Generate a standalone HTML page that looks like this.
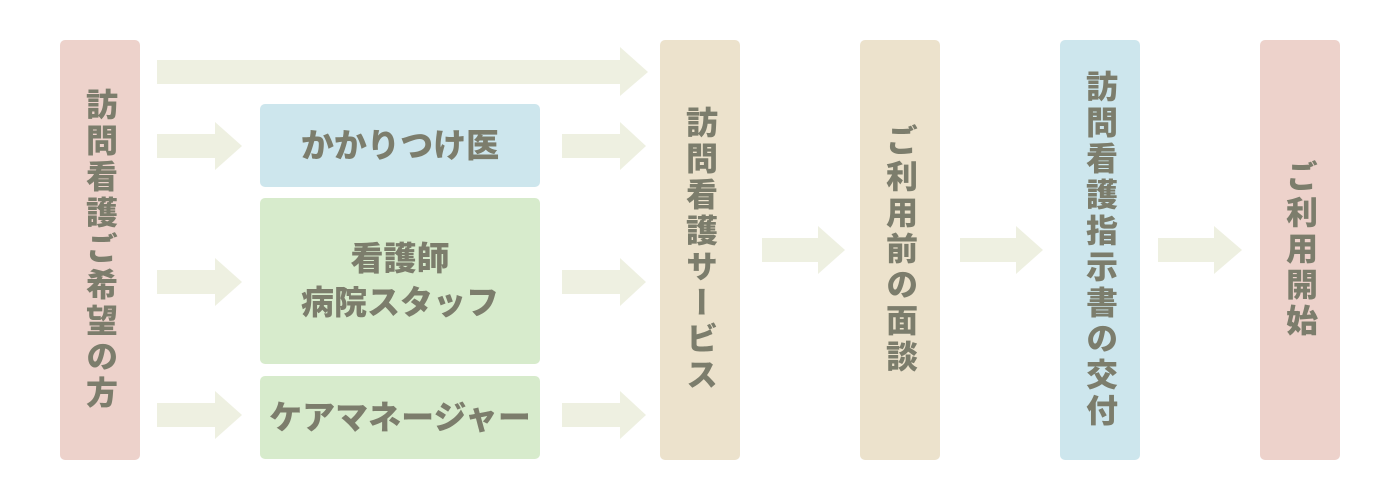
<!DOCTYPE html>
<html><head><meta charset="utf-8"><style>
body{margin:0;width:1400px;height:500px;background:#fff;position:relative;overflow:hidden;font-family:"Liberation Sans","Noto Sans CJK JP",sans-serif;font-weight:900;color:#7c7d6c}
.b{position:absolute;border-radius:5px;display:flex;align-items:center;justify-content:center}
.v{writing-mode:vertical-rl;font-size:32px;letter-spacing:4px}
.h{font-size:33px;text-align:center;line-height:44px}
svg{position:absolute;left:0;top:0}
</style></head><body>
<svg width="1400" height="500">
<g fill="#eef0e1">
<polygon points="157,60 620,60 620,47 648,72 620,96 620,84 157,84"/>
<polygon points="157,134 215,134 215,122 242,146 215,170 215,158 157,158"/>
<polygon points="157,270 215,270 215,258 242,282 215,306 215,294 157,294"/>
<polygon points="157,403 215,403 215,391 242,415 215,439 215,427 157,427"/>
<polygon points="562,134 620,134 620,122 646,146 620,170 620,158 562,158"/>
<polygon points="562,270 620,270 620,258 646,282 620,306 620,294 562,294"/>
<polygon points="562,403 620,403 620,391 646,415 620,439 620,427 562,427"/>
<polygon points="762,238 818,238 818,226 845,250 818,274 818,262 762,262"/>
<polygon points="960,238 1016,238 1016,226 1043,250 1016,274 1016,262 960,262"/>
<polygon points="1158,238 1214,238 1214,226 1242,250 1214,274 1214,262 1158,262"/>
</g></svg>
<div class="b v" style="left:60px;top:40px;width:80px;height:420px;background:#edd2cb">訪問看護ご希望の方</div>
<div class="b h" style="left:260px;top:104px;width:280px;height:83px;background:#cde6ed">かかりつけ医</div>
<div class="b h" style="left:260px;top:198px;width:280px;height:166px;background:#d7ebcc">看護師<br>病院スタッフ</div>
<div class="b h" style="left:260px;top:376px;width:280px;height:83px;background:#d7ebcc">ケアマネージャー</div>
<div class="b v" style="left:660px;top:40px;width:80px;height:420px;background:#ece2cc">訪問看護サービス</div>
<div class="b v" style="left:860px;top:40px;width:80px;height:420px;background:#ece2cc">ご利用前の面談</div>
<div class="b v" style="left:1060px;top:40px;width:80px;height:420px;background:#cde6ed">訪問看護指示書の交付</div>
<div class="b v" style="left:1260px;top:40px;width:80px;height:420px;background:#edd2cb">ご利用開始</div>
</body></html>
